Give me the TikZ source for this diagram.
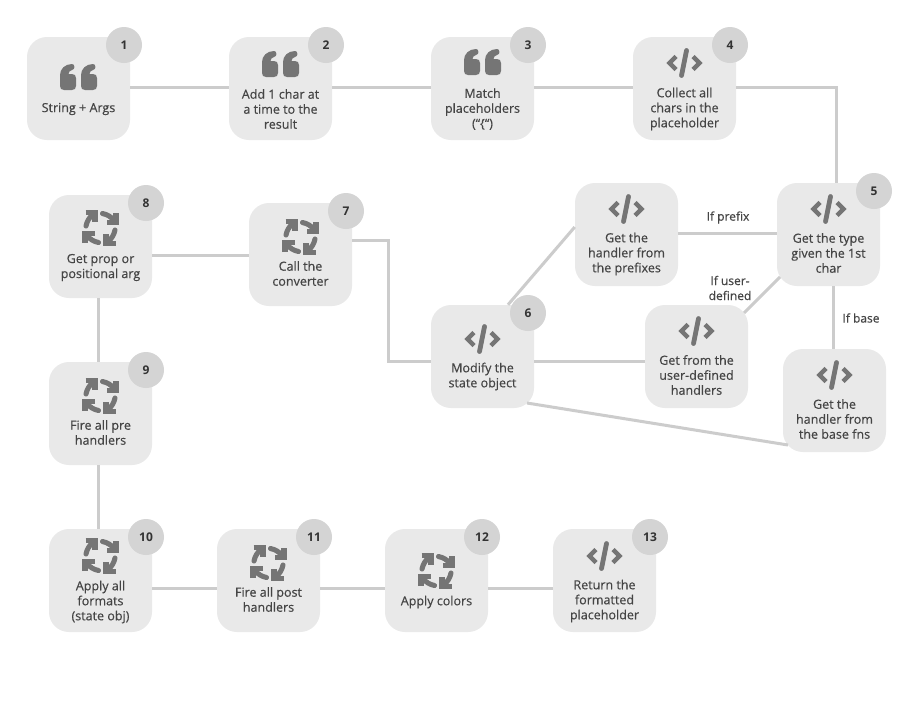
\documentclass[tikz,border=0pt]{standalone}
\usepackage{fontspec}
\setmainfont{Open Sans}
\newfontfamily\medfont{Open Sans}[RawFeature={embolden=0.45}]
\definecolor{boxc}{HTML}{E9E9E9}
\definecolor{badgec}{HTML}{D4D4D4}
\definecolor{linec}{HTML}{CCCCCC}
\definecolor{iconc}{HTML}{757575}
\definecolor{textc}{HTML}{454545}
\tikzset{
  x=0.75pt,y=-0.75pt,
  card/.style={fill=boxc,rounded corners=15pt,minimum size=77.25pt,inner sep=0pt},
  badge/.style={circle,fill=badgec,minimum size=27pt,inner sep=0pt,font=\fontsize{9}{11}\selectfont\bfseries,text=black!80},
  cardtext/.style={align=center,inner sep=0pt,text=textc,font=\fontsize{9.4}{11.25}\selectfont\medfont},
  edgetext/.style={align=center,inner sep=0pt,text=textc,font=\fontsize{9}{11.25}\selectfont\medfont},
  conn/.style={draw=linec,line width=2.25pt},
  pics/codeicon/.style={code={
    \draw[iconc,line width=3.4pt,line join=miter] (-8.5,-6.5)--(-15,0)--(-8.5,6.5);
    \draw[iconc,line width=3.4pt,line join=miter] (8.5,-6.5)--(15,0)--(8.5,6.5);
    \draw[iconc,line width=3.6pt,line cap=round] (2,-12.5)--(-3,12.5);
  }},
  pics/quoteicon/.style={code={
    \foreach \dx in {-18.5,2.5}{
      \fill[iconc,shift={(\dx,-13)}] (0,11) .. controls (0,5) and (5,0) .. (12,0)
        .. controls (15,0) and (15.5,5.5) .. (12,6) .. controls (10,6.5) and (8.5,8) .. (8.5,10)
        -- (12,10) .. controls (14.5,10) and (16,11.5) .. (16,14) -- (16,22)
        .. controls (16,24.5) and (14.5,26) .. (12,26) -- (4,26)
        .. controls (1.5,26) and (0,24.5) .. (0,22) -- cycle;
    }
  }},
  pics/cycleicon/.style={code={
    \foreach \a in {0,-90,-180,-270}{
      \begin{scope}[rotate=\a]
        \draw[iconc,line width=3.8pt,line cap=round] (-14.5,-2) .. controls (-13.5,-7) and (-11,-10.5) .. (-7.5,-14);
        \draw[iconc,line width=3.8pt,line join=miter] (-15,-15.5)--(-5.5,-15.5)--(-5.5,-6);
      \end{scope}
    }
  }},
}
% name, box left, box top, number, icon, icon y, text y, text
\newcommand{\stepcard}[8]{%
  \node[card] (b#1) at (#2+51.5,#3+51.5) {};
  \node[badge] (n#1) at (#2+97,#3+8) {#4};
  \pic at (#2+51.5,#6) {#5};
  \node[cardtext] (t#1) at (#2+51.5,#7) {#8};
}
\begin{document}
\begin{tikzpicture}
\useasboundingbox (0,0) rectangle (919,704);
\fill[white] (0,0) rectangle (919,704);
\stepcard{a}{27}{37}{1}{quoteicon}{77}{109}{String + Args}
\stepcard{b}{229}{37}{2}{quoteicon}{64}{109}{Add 1 char at\\a time to the\\result}
\stepcard{c}{431}{37}{3}{quoteicon}{62}{109}{Match\\placeholders\\(“\{“)}
\stepcard{d}{633}{37}{4}{codeicon}{63}{109}{Collect all\\chars in the\\placeholder}
\stepcard{e}{777}{183}{5}{codeicon}{209}{253}{Get the type\\given the 1st\\char}
\stepcard{f}{431}{305}{6}{codeicon}{339}{376.5}{Modify the\\state object}
\stepcard{g}{249}{203}{7}{cycleicon}{237}{273.5}{Call the\\converter}
\stepcard{h}{49}{195}{8}{cycleicon}{228}{267.5}{Get prop or\\positional arg}
\stepcard{i}{49}{362}{9}{cycleicon}{396}{432.5}{Fire all pre\\handlers}
\stepcard{j}{49}{529}{10}{cycleicon}{556}{602}{Apply all\\formats\\(state obj)}
\stepcard{k}{217}{529}{11}{cycleicon}{563}{599.5}{Fire all post\\handlers}
\stepcard{l}{385}{529}{12}{cycleicon}{571}{602}{Apply colors}
\stepcard{m}{553}{529}{13}{codeicon}{556}{601}{Return the\\formatted\\placeholder}
% cards without a badge
\node[card] (bp) at (626.5,234.5) {};
\pic at (626.5,209) {codeicon};
\node[cardtext] (tp) at (626.5,254) {Get the\\handler from\\the prefixes};
\node[card] (bu) at (696.5,356.5) {};
\pic at (696.5,331) {codeicon};
\node[cardtext] (tu) at (696.5,375) {Get from the\\user-defined\\handlers};
\node[card] (bs) at (834.5,400.5) {};
\pic at (834.5,375) {codeicon};
\node[cardtext] (ts) at (834.5,419) {Get the\\handler from\\the base fns};
% connectors
\draw[conn] ([shift={(0,-1.5)}]ba.east) -- ([shift={(0,-1.5)}]bb.west);
\draw[conn] ([shift={(0,-1.5)}]bb.east) -- ([shift={(0,-1.5)}]bc.west);
\draw[conn] ([shift={(0,-1.5)}]bc.east) -- ([shift={(0,-1.5)}]bd.west);
\draw[conn] ([shift={(0,-1.5)}]bd.east) -| ([shift={(8,0)}]be.north);
\draw[conn] ([shift={(0,-1.5)}]be.west) -- ([shift={(0,-1.5)}]bp.east);
\draw[conn] ([shift={(-48.5,42.5)}]be.center) -- ([shift={(47.5,-43.5)}]bu.center);
\draw[conn] ([shift={(4.5,0)}]be.south) -- ([shift={(-1.5,0)}]bs.north);
\draw[conn] ([shift={(25.5,0)}]bf.north) -- ([shift={(0,-7.5)}]bp.west);
\draw[conn] ([shift={(0,4.5)}]bf.east) -- ([shift={(0,4.5)}]bu.west);
\draw[conn] ([shift={(44.5,46.5)}]bf.center) -- ([shift={(-46.5,44.5)}]bs.center);
\draw[conn] ([shift={(0,-14.5)}]bg.east) -- ++(36.5,0) |- ([shift={(0,4.5)}]bf.west);
\draw[conn] ([shift={(0,8.5)}]bh.east) -- ([shift={(0,0.5)}]bg.west);
\draw[conn] ([shift={(-2,0)}]bh.south) -- ([shift={(-2,0)}]bi.north);
\draw[conn] ([shift={(-2,0)}]bi.south) -- ([shift={(-2,0)}]bj.north);
\draw[conn] ([shift={(0,7.5)}]bj.east) -- ([shift={(0,7.5)}]bk.west);
\draw[conn] ([shift={(0,7.5)}]bk.east) -- ([shift={(0,7.5)}]bl.west);
\draw[conn] ([shift={(0,7.5)}]bl.east) -- ([shift={(0,7.5)}]bm.west);
% edge labels
\node[edgetext] (l1) at (728,217.5) {If prefix};
\node[edgetext] (l2) at (730,288) {If user-\\defined};
\node[edgetext] (l3) at (861,318) {If base};
\end{tikzpicture}
\end{document}
